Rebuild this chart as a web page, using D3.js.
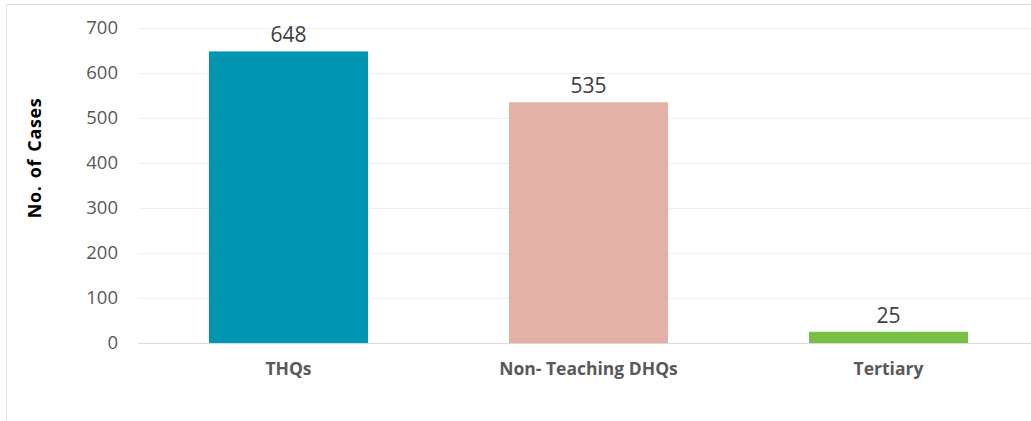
<!DOCTYPE html>
<html>
<head>
<meta charset="utf-8">
<script src="https://cdn.jsdelivr.net/npm/d3@7"></script>
<style>
  body { margin: 0; background: #fff; }
  text { font-family: "Open Sans", sans-serif; }
</style>
</head>
<body>
<script>
const categories = ['THQs', 'Non- Teaching DHQs', 'Tertiary']
const cases = [648, 535, 25]
const barColors = ['#0095b1', '#e3b1a7', '#77c043']
const yTicks = [0, 100, 200, 300, 400, 500, 600, 700]

const w = 1031
const h = 421
const plotLeft = 138.5, plotRight = 1038.5, plotTop = 28, plotBottom = 343

const svg = d3.select('body')
  .append('svg')
  .attr('width', w)
  .attr('height', h)

// outer frame
svg.append('rect')
  .attr('x', 6.5).attr('y', 4.5)
  .attr('width', w + 10).attr('height', 430)
  .attr('fill', 'none')
  .attr('stroke', '#e2e2e2')

const xScale = d3.scaleBand()
  .domain(categories)
  .range([plotLeft, plotRight])
  .paddingInner(0.47)
  .paddingOuter(0.235)

const yScale = d3.scaleLinear()
  .domain([0, 700])
  .range([plotBottom, plotTop])

// gridlines
svg.append('g')
  .selectAll('line')
  .data(yTicks)
  .enter()
  .append('line')
  .attr('x1', plotLeft).attr('x2', w)
  .attr('y1', d => yScale(d) + 0.5).attr('y2', d => yScale(d) + 0.5)
  .attr('stroke', d => d === 0 ? '#dadada' : '#f0f0f0')

// y axis labels
const yAxis = d3.axisLeft(yScale).tickValues(yTicks).tickSize(0).tickPadding(0)
svg.append('g')
  .attr('transform', `translate(118,0)`)
  .call(yAxis)
  .call(g => g.select('.domain').remove())
  .selectAll('text')
  .attr('font-size', 18.5)
  .attr('fill', '#595959')
  .attr('font-family', '"Open Sans", sans-serif')

// bars
svg.selectAll('rect.bar')
  .data(cases)
  .enter()
  .append('rect')
  .attr('class', 'bar')
  .attr('x', (d, i) => xScale(categories[i]))
  .attr('width', xScale.bandwidth())
  .attr('y', d => yScale(d))
  .attr('height', d => yScale(0) - yScale(d))
  .attr('fill', (d, i) => barColors[i])

// value labels
svg.selectAll('text.val')
  .data(cases)
  .enter()
  .append('text')
  .attr('class', 'val')
  .attr('x', (d, i) => xScale(categories[i]) + xScale.bandwidth() / 2)
  .attr('y', d => yScale(d) - 9)
  .attr('text-anchor', 'middle')
  .attr('font-size', 21)
  .attr('fill', '#404040')
  .text(d => d)

// x axis labels
const xAxis = d3.axisBottom(xScale).tickSize(0).tickPadding(0)
svg.append('g')
  .attr('transform', `translate(0,${plotBottom + 20})`)
  .call(xAxis)
  .call(g => g.select('.domain').remove())
  .selectAll('text')
  .attr('font-size', 17.5)
  .attr('font-weight', 'bold')
  .attr('fill', '#595959')
  .attr('font-family', '"Open Sans", sans-serif')

// y title
svg.append('text')
  .attr('transform', 'translate(41,158) rotate(-90)')
  .attr('text-anchor', 'middle')
  .attr('font-size', 18)
  .attr('font-weight', 'bold')
  .attr('letter-spacing', 0.6)
  .attr('word-spacing', 2)
  .attr('fill', '#000')
  .text('No. of Cases')
</script>
</body>
</html>
